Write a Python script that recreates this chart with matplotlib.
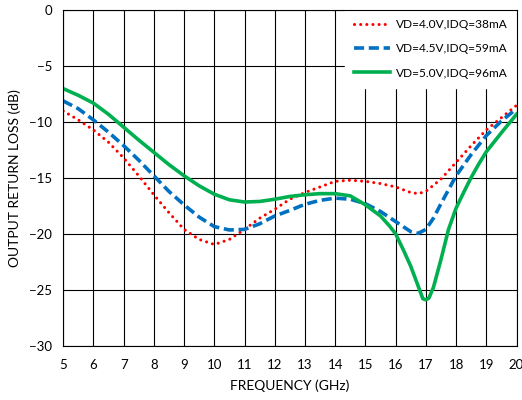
import matplotlib
matplotlib.use('Agg')
import matplotlib.pyplot as plt

plt.rcParams['font.family'] = ['Lato', 'DejaVu Sans']

# VD=4.0V, IDQ=38mA
freq_a = [5.0, 5.5, 6.0, 6.5, 7.0, 7.5, 8.0, 8.5, 9.0, 9.5, 10.0, 10.5, 11.0, 11.5,
          12.0, 12.5, 13.0, 13.5, 14.0, 14.5, 15.0, 15.5, 16.0, 16.5, 16.75, 17.0,
          17.5, 18.0, 18.5, 19.0, 19.5, 20.0]
rl_a = [-9.0, -9.8, -10.7, -11.8, -13.2, -14.8, -16.5, -18.1, -19.6, -20.5, -20.95, -20.5,
        -19.6, -18.6, -17.8, -16.9, -16.3, -15.8, -15.3, -15.2, -15.3, -15.5, -15.8,
        -16.3, -16.4, -16.2, -15.1, -13.6, -12.1, -10.7, -9.6, -8.5]

# VD=4.5V, IDQ=59mA
freq_b = [5.0, 5.5, 6.0, 6.5, 7.0, 7.5, 8.0, 8.5, 9.0, 9.5, 10.0, 10.5, 11.0, 11.5,
          12.0, 12.5, 13.0, 13.5, 14.0, 14.5, 15.0, 15.5, 16.0, 16.5, 16.75, 17.0,
          17.25, 17.5, 18.0, 18.5, 19.0, 19.5, 20.0]
rl_b = [-8.1, -8.8, -9.8, -10.9, -12.1, -13.4, -14.8, -16.2, -17.4, -18.5, -19.35, -19.65,
        -19.6, -19.1, -18.4, -17.9, -17.35, -17.0, -16.8, -16.9, -17.3, -18.0, -18.9,
        -19.8, -19.95, -19.6, -18.6, -17.3, -14.8, -12.9, -11.2, -9.9, -8.8]

# VD=5.0V, IDQ=96mA
freq_c = [5.0, 5.5, 6.0, 6.5, 7.0, 7.5, 8.0, 8.5, 9.0, 9.5, 10.0, 10.5, 11.0, 11.5,
          12.0, 12.5, 13.0, 13.5, 14.0, 14.5, 15.0, 15.5, 15.8, 16.0, 16.25, 16.5,
          16.75, 16.9, 17.0, 17.1, 17.25, 17.5, 17.75, 18.0, 18.25, 18.5, 18.75, 19.0,
          19.5, 20.0]
rl_c = [-7.0, -7.6, -8.3, -9.3, -10.45, -11.6, -12.7, -13.8, -14.8, -15.7, -16.45, -16.95,
        -17.15, -17.1, -16.9, -16.65, -16.5, -16.4, -16.4, -16.6, -17.4, -18.4, -19.3,
        -20.0, -21.4, -22.9, -24.7, -25.8, -25.9, -25.75, -24.8, -22.3, -19.6, -17.7,
        -16.3, -14.95, -13.75, -12.65, -10.95, -9.3]

labels = ['VD=4.0V,IDQ=38mA', 'VD=4.5V,IDQ=59mA', 'VD=5.0V,IDQ=96mA']

fig, ax = plt.subplots(figsize=(5.22, 4.0), dpi=100)
fig.subplots_adjust(left=0.121, right=0.9895, top=0.974, bottom=0.136)

ax.plot(freq_a, rl_a, color='#ff0000', lw=2.2, linestyle=(0, (0.01, 2.0)),
        dash_capstyle='round', label=labels[0])
ax.plot(freq_b, rl_b, color='#0070c0', lw=2.6, linestyle=(0, (2.8, 1.3)),
        label=labels[1])
ax.plot(freq_c, rl_c, color='#00b050', lw=2.6, label=labels[2])

ax.set_xlim(5, 20)
ax.set_ylim(-30, 0)
ax.set_xticks(range(5, 21))
ax.set_yticks(range(-30, 1, 5))
ax.grid(color='black', lw=0.8)
ax.set_axisbelow(True)
ax.tick_params(length=0, labelsize=9.5)
ax.tick_params(axis='x', pad=10)
ax.tick_params(axis='y', pad=8)
for s in ax.spines.values():
    s.set_color('black')
    s.set_linewidth(0.8)
    s.set_zorder(10)

ax.set_xlabel('FREQUENCY (GHz)', fontsize=10, labelpad=6)
ax.set_ylabel('OUTPUT RETURN LOSS (dB)', fontsize=10, labelpad=6)

leg = ax.legend(loc='upper right', bbox_to_anchor=(1, 1), borderaxespad=0,
                framealpha=1, edgecolor='white', fancybox=False, fontsize=8.6,
                handlelength=3.0, handletextpad=0.5, labelspacing=1.1, borderpad=0.75)

fig.savefig('out.png', dpi=100)
